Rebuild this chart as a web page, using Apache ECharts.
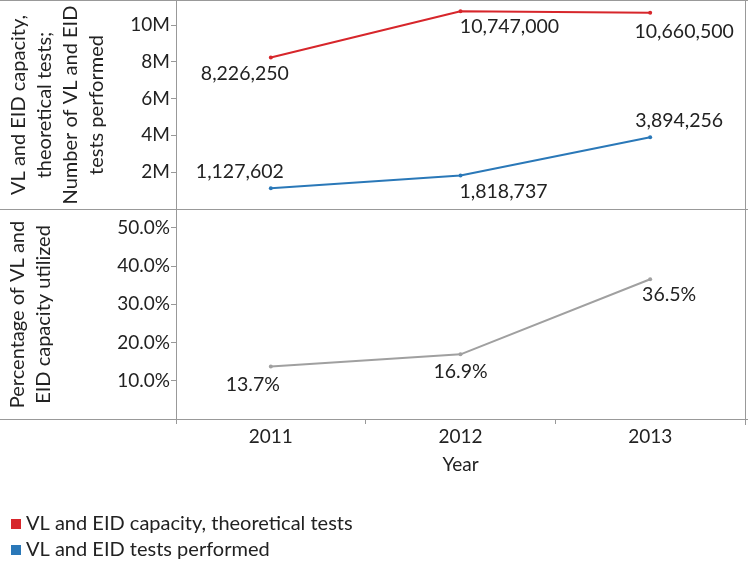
<!DOCTYPE html>
<html><head><meta charset="utf-8">
<script src="https://cdn.jsdelivr.net/npm/echarts@6/dist/echarts.min.js"></script>
<style>html,body{margin:0;padding:0;background:#fff}#c{width:748px;height:561px}</style>
</head><body><div id="c"></div>
<script>
const years = ['2011', '2012', '2013'];
const capacity = [8226250, 10747000, 10660500];
const performed = [1127602, 1818737, 3894256];
const utilized = [13.7, 16.9, 36.5];
const countTicks = [2000000, 4000000, 6000000, 8000000, 10000000];
const pctTicks = [10, 20, 30, 40, 50];

const FONT = 'Lato';
const TXT = '#222';
const capOff = [[-26, 16], [49, 16], [34, 19]];
const perfOff = [[-31, -17], [43, 16], [29, -17]];
const utilOff = [[-18, 18], [0, 17], [19, 15]];

function withLabels(vals, offs, fmt) {
  return vals.map((v, i) => ({
    value: v,
    label: { show: true, position: 'inside', offset: offs[i], formatter: fmt(v) }
  }));
}
const fmtNum = v => v.toLocaleString('en-US');
const fmtPct = v => v.toFixed(1) + '%';

const chart = echarts.init(document.getElementById('c'));
const L = 176, R = 3;
const legendText = { fontFamily: FONT, fontSize: 20, color: TXT };
chart.setOption({
  animation: false,
  textStyle: { fontFamily: FONT },
  grid: [
    { left: L, right: R, top: 1, height: 208, show: false, outerBoundsMode: 'none', containLabel: false },
    { left: L, right: R, top: 210, height: 209, show: false, outerBoundsMode: 'none', containLabel: false }
  ],
  legend: [
    { left: 6, top: 509, icon: 'rect', itemWidth: 10, itemHeight: 10, itemGap: 10,
      textStyle: legendText, data: ['VL and EID capacity, theoretical tests'] },
    { left: 6, top: 535, icon: 'rect', itemWidth: 10, itemHeight: 10, itemGap: 10,
      textStyle: legendText, data: ['VL and EID tests performed'] }
  ],
  xAxis: [
    { type: 'category', gridIndex: 0, data: years, axisLine: { show: false }, axisTick: { show: false }, axisLabel: { show: false } },
    { type: 'category', gridIndex: 1, data: years,
      axisLine: { show: true, lineStyle: { color: '#999', width: 1 } },
      axisTick: { show: true, length: 5, lineStyle: { color: '#999' } },
      axisLabel: { fontFamily: FONT, fontSize: 19, color: TXT, margin: 8 },
      name: 'Year', nameLocation: 'middle', nameGap: 36,
      nameTextStyle: { fontFamily: FONT, fontSize: 19, color: TXT } }
  ],
  yAxis: [
    { type: 'value', gridIndex: 0, min: 0, max: 11300000, splitLine: { show: false },
      axisLine: { show: true, lineStyle: { color: '#999' } },
      axisTick: { show: true, length: 5, customValues: countTicks, lineStyle: { color: '#999' } },
      axisLabel: { customValues: countTicks, fontFamily: FONT, fontSize: 19, color: TXT, margin: 6,
        formatter: v => (v / 1e6) + 'M' },
      name: 'VL and EID capacity,\ntheoretical tests;\nNumber of VL and EID\ntests performed',
      nameLocation: 'middle', nameRotate: 90, nameGap: 66,
      nameTextStyle: { fontFamily: FONT, fontSize: 20, color: TXT, lineHeight: 26, align: 'center' } },
    { type: 'value', gridIndex: 1, min: 0, max: 54.6, splitLine: { show: false },
      axisLine: { show: true, lineStyle: { color: '#999' } },
      axisTick: { show: true, length: 5, customValues: pctTicks, lineStyle: { color: '#999' } },
      axisLabel: { customValues: pctTicks, fontFamily: FONT, fontSize: 19, color: TXT, margin: 6,
        formatter: v => v.toFixed(1) + '%' },
      name: 'Percentage of VL and\nEID capacity utilized',
      nameLocation: 'middle', nameRotate: 90, nameGap: 119,
      nameTextStyle: { fontFamily: FONT, fontSize: 20, color: TXT, lineHeight: 26, align: 'center' } }
  ],
  graphic: [
    { type: 'line', shape: { x1: 0, y1: 0.5, x2: 748, y2: 0.5 }, style: { stroke: '#999', lineWidth: 1 } },
    { type: 'line', shape: { x1: 0, y1: 209.5, x2: 748, y2: 209.5 }, style: { stroke: '#999', lineWidth: 1 } },
    { type: 'line', shape: { x1: 0, y1: 419.5, x2: 748, y2: 419.5 }, style: { stroke: '#999', lineWidth: 1 } },
    { type: 'line', shape: { x1: 745.5, y1: 0, x2: 745.5, y2: 425 }, style: { stroke: '#999', lineWidth: 1 } }
  ],
  series: [
    { name: 'VL and EID capacity, theoretical tests', type: 'line', xAxisIndex: 0, yAxisIndex: 0,
      data: withLabels(capacity, capOff, fmtNum), symbol: 'circle', symbolSize: 4,
      lineStyle: { color: '#d7262b', width: 2 }, itemStyle: { color: '#d7262b' },
      label: { fontFamily: FONT, fontSize: 19.5, color: TXT } },
    { name: 'VL and EID tests performed', type: 'line', xAxisIndex: 0, yAxisIndex: 0,
      data: withLabels(performed, perfOff, fmtNum), symbol: 'circle', symbolSize: 4,
      lineStyle: { color: '#2a78b8', width: 2 }, itemStyle: { color: '#2a78b8' },
      label: { fontFamily: FONT, fontSize: 19.5, color: TXT } },
    { name: 'Utilized', type: 'line', xAxisIndex: 1, yAxisIndex: 1,
      data: withLabels(utilized, utilOff, fmtPct), symbol: 'circle', symbolSize: 4,
      lineStyle: { color: '#a0a0a0', width: 2 }, itemStyle: { color: '#a0a0a0' },
      label: { fontFamily: FONT, fontSize: 19.5, color: TXT } }
  ]
});
</script></body></html>
